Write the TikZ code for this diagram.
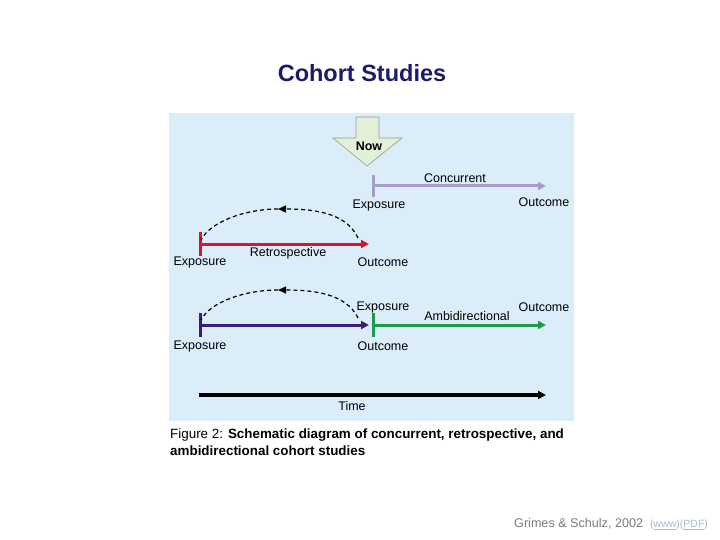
\documentclass[tikz,border=0pt]{standalone}
\usepackage{fontspec}
\setmainfont{Liberation Sans}
\usetikzlibrary{arrows.meta}

\begin{document}
\begin{tikzpicture}[x=1pt,y=-1pt]

% Colours
\definecolor{colPanel}{HTML}{DCEDFA}
\definecolor{colNow}{HTML}{E3EFD8}
\definecolor{colConc}{HTML}{A79CC9}
\definecolor{colRetro}{HTML}{D9123A}
\definecolor{colAmbiA}{HTML}{3B1C7A}
\definecolor{colAmbiB}{HTML}{1E9A4A}
\definecolor{colTitle}{HTML}{1B1B6B}
\definecolor{colCredit}{HTML}{7A7A7A}
\definecolor{colLink}{HTML}{A9B6D6}

\tikzset{
  lbl/.style={font=\fontsize{12.5}{14}\selectfont, inner sep=0pt},
  tick/.style={line width=3pt},
  study/.style={line width=3pt, -{Triangle[length=8pt,width=8pt]}},
  back/.style={line width=1.2pt, dash pattern=on 4pt off 3pt},
}

\useasboundingbox (0,0) rectangle (720,540);

% Title
\node[font=\fontsize{23.5}{26}\selectfont\bfseries, text=colTitle] (title) at (362,73) {Cohort Studies};

% Panel
\fill[colPanel] (169,113) rectangle (574,421);

% Now arrow
\draw[fill=colNow, draw=gray!80, line width=0.6pt]
(356,117) -- (379,117) -- (379,138) -- (402,138) -- (367,166) -- (333,138) -- (356,138) -- cycle;
\node[font=\fontsize{12.5}{14}\selectfont\bfseries, inner sep=0pt] (now) at (369,146) {Now};

% Concurrent
\coordinate (concS) at (373,186);
\coordinate (concE) at (546,186);
\draw[colConc, tick] (373,175) -- (373,197);
\draw[colConc, study] (concS) -- (concE);
\node[lbl] (concTxt) at (455,178) {Concurrent};
\node[lbl] (concExp) at (379,205) {Exposure};
\node[lbl] (concOut) at (544,202) {Outcome};

% Retrospective
\coordinate (retS) at (200,244);
\coordinate (retE) at (369,244);
\coordinate (retTop) at (278,209);
\draw[colRetro, tick] (200,232) -- (200,256);
\draw[colRetro, study] (retS) -- (retE);
\draw[back, -{Triangle[length=8pt,width=7pt]}] (358,238) .. controls (346,212) and (312,209) .. (retTop);
\draw[back] (retTop) .. controls (245,209) and (210,222) .. (201,240);
\node[lbl] (retTxt) at (288,253) {Retrospective};
\node[lbl] (retExp) at (200,262) {Exposure};
\node[lbl] (retOut) at (383,262) {Outcome};

% Ambidirectional
\coordinate (ambS) at (200,325);
\coordinate (ambM) at (369,325);
\coordinate (ambN) at (373,325);
\coordinate (ambE) at (546,325);
\coordinate (ambTop) at (278,290);
\draw[colAmbiA, tick] (200,313) -- (200,337);
\draw[colAmbiA, study] (ambS) -- (ambM);
\draw[colAmbiB, tick] (373,313) -- (373,337);
\draw[colAmbiB, study] (ambN) -- (ambE);
\draw[back, -{Triangle[length=8pt,width=7pt]}] (358,318) .. controls (346,293) and (312,290) .. (ambTop);
\draw[back] (ambTop) .. controls (245,290) and (210,302) .. (201,320);
\node[lbl] (ambExpB) at (383,307) {Exposure};
\node[lbl] (ambTxt) at (467,316) {Ambidirectional};
\node[lbl] (ambOutB) at (544,307) {Outcome};
\node[lbl] (ambExpA) at (200,346) {Exposure};
\node[lbl] (ambOutA) at (383,346) {Outcome};

% Time
\coordinate (timeS) at (199,395);
\coordinate (timeE) at (546,395);
\draw[line width=4pt, -{Triangle[length=8pt,width=8pt]}] (timeS) -- (timeE);
\node[lbl] (time) at (352,406) {Time};

% Caption
\node[anchor=west, font=\fontsize{13.4}{15}\selectfont, inner sep=0pt] (cap1) at (170,435)
{Figure 2: \textbf{Schematic diagram of concurrent, retrospective, and}};
\node[anchor=west, font=\fontsize{13.4}{15}\selectfont\bfseries, inner sep=0pt] (cap2) at (170,451)
{ambidirectional cohort studies};

% Credit
\node[anchor=west, font=\fontsize{12.6}{14}\selectfont, text=colCredit, inner sep=0pt] (credit) at (514,524) {Grimes \& Schulz, 2002};
\node[anchor=west, font=\fontsize{10.5}{12}\selectfont, text=colLink, inner sep=0pt] (links) at (650,525) {(\underline{www})(\underline{PDF})};

\end{tikzpicture}
\end{document}
